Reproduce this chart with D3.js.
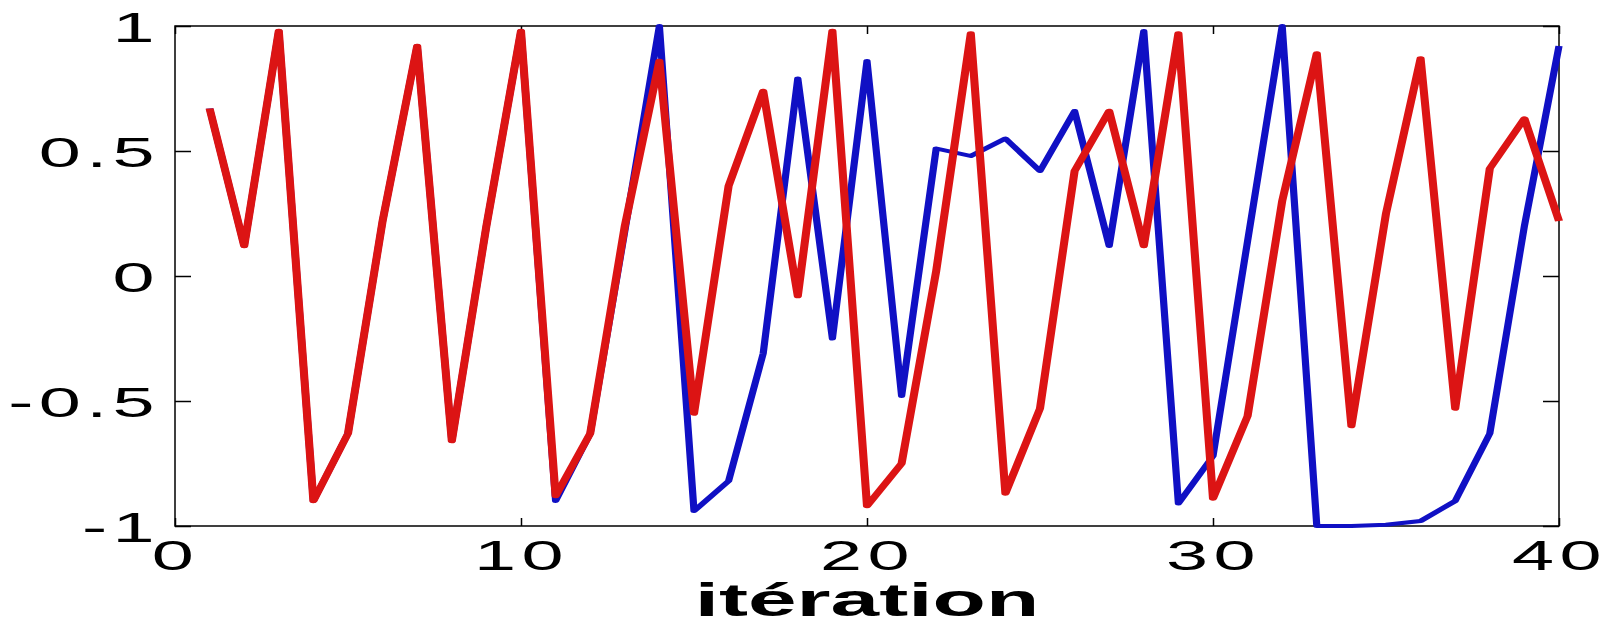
<!DOCTYPE html>
<html>
<head>
<meta charset="utf-8">
<script src="https://cdn.jsdelivr.net/npm/d3@7"></script>
<style>
  html, body { margin: 0; padding: 0; background: #fff; }
  svg { display: block; }
</style>
</head>
<body>
<svg id="chart"></svg>
<script>
// values, one per iteration 1..40
const iterations = d3.range(1, 41);

const redSeries = [
  0.67, 0.12, 0.98, -0.90, -0.63, 0.22, 0.92, -0.66, 0.20, 0.98,
  -0.88, -0.63, 0.20, 0.86, -0.55, 0.36, 0.74, -0.08, 0.98, -0.92,
  -0.75, 0.02, 0.97, -0.87, -0.53, 0.42, 0.66, 0.12, 0.97, -0.89,
  -0.56, 0.30, 0.89, -0.60, 0.25, 0.87, -0.53, 0.43, 0.63, 0.22
];

const blueSeries = [
  0.67, 0.12, 0.98, -0.90, -0.63, 0.22, 0.92, -0.66, 0.20, 0.98,
  -0.90, -0.63, 0.18, 1.00, -0.94, -0.82, -0.31, 0.79, -0.25, 0.86,
  -0.48, 0.51, 0.48, 0.55, 0.42, 0.66, 0.12, 0.98, -0.91, -0.72,
  0.14, 1.00, -1.00, -1.00, -0.995, -0.98, -0.90, -0.63, 0.20, 0.92
];

const xTicks = [0, 10, 20, 30, 40];
const yTicks = [-1, -0.5, 0, 0.5, 1];
const xLabel = 'itération';

// layout
const width = 1612, height = 626;
const margin = { top: 26, right: 53, bottom: 100, left: 175 };
const stretch = 1.8; // the picture is squeezed wide, so text and strokes are too

const svg = d3.select('#chart')
  .attr('width', width)
  .attr('height', height);

const x = d3.scaleLinear()
  .domain([0, 40])
  .range([margin.left, width - margin.right]);

const y = d3.scaleLinear()
  .domain([-1, 1])
  .range([height - margin.bottom, margin.top]);

// axes with inward ticks on all four sides
const axisB = svg.append('g')
  .attr('transform', `translate(0,${y(-1)})`)
  .call(d3.axisBottom(x).tickValues(xTicks).tickSizeInner(-8).tickSizeOuter(0));

const axisT = svg.append('g')
  .attr('transform', `translate(0,${y(1)})`)
  .call(d3.axisTop(x).tickValues(xTicks).tickSizeInner(-8).tickSizeOuter(0));

const axisL = svg.append('g')
  .attr('transform', `translate(${x(0)},0)`)
  .call(d3.axisLeft(y).tickValues(yTicks).tickSizeInner(-16).tickSizeOuter(0));

const axisR = svg.append('g')
  .attr('transform', `translate(${x(40)},0)`)
  .call(d3.axisRight(y).tickValues(yTicks).tickSizeInner(-16).tickSizeOuter(0));

[axisB, axisT, axisL, axisR].forEach(g => {
  g.select('.domain').remove();
  g.selectAll('.tick line').attr('stroke', '#000').attr('stroke-width', 1.5);
  g.selectAll('.tick text').remove();
});

// tick labels, stretched sideways like the original
axisB.selectAll('.tick').append('text')
  .attr('transform', `translate(0,44) scale(${stretch},1)`)
  .attr('text-anchor', 'middle')
  .attr('font-family', '"Liberation Sans", Arial, sans-serif')
  .attr('font-size', 42)
  .attr('letter-spacing', 3)
  .attr('fill', '#000')
  .text(d => String(d));

axisL.selectAll('.tick').append('text')
  .attr('transform', `translate(-15,15) scale(${stretch},1)`)
  .attr('text-anchor', 'end')
  .attr('font-family', '"Liberation Sans", Arial, sans-serif')
  .attr('font-size', 42)
  .attr('letter-spacing', 3)
  .attr('fill', '#000')
  .text(d => String(d));

// the box
svg.append('rect')
  .attr('x', x(0))
  .attr('y', y(1))
  .attr('width', x(40) - x(0))
  .attr('height', y(-1) - y(1))
  .attr('fill', 'none')
  .attr('stroke', '#000')
  .attr('stroke-width', 1.5);

// lines, blue under red; drawn in a squeezed frame so the strokes widen sideways
const plot = svg.append('g')
  .attr('transform', `scale(${stretch},1)`);

const line = d3.line()
  .x((d, i) => x(iterations[i]) / stretch)
  .y(d => y(d));

plot.append('path')
  .datum(blueSeries)
  .attr('d', line)
  .attr('fill', 'none')
  .attr('stroke', '#1010c4')
  .attr('stroke-width', 4)
  .attr('stroke-linejoin', 'round');

plot.append('path')
  .datum(redSeries)
  .attr('d', line)
  .attr('fill', 'none')
  .attr('stroke', '#dc1414')
  .attr('stroke-width', 4.5)
  .attr('stroke-linejoin', 'round');

// x axis title
svg.append('text')
  .attr('transform', `translate(${(x(0) + x(40)) / 2},616) scale(1.9,1)`)
  .attr('text-anchor', 'middle')
  .attr('font-family', '"Liberation Sans", Arial, sans-serif')
  .attr('font-weight', 'bold')
  .attr('font-size', 46)
  .attr('fill', '#000')
  .text(xLabel);
</script>
</body>
</html>
